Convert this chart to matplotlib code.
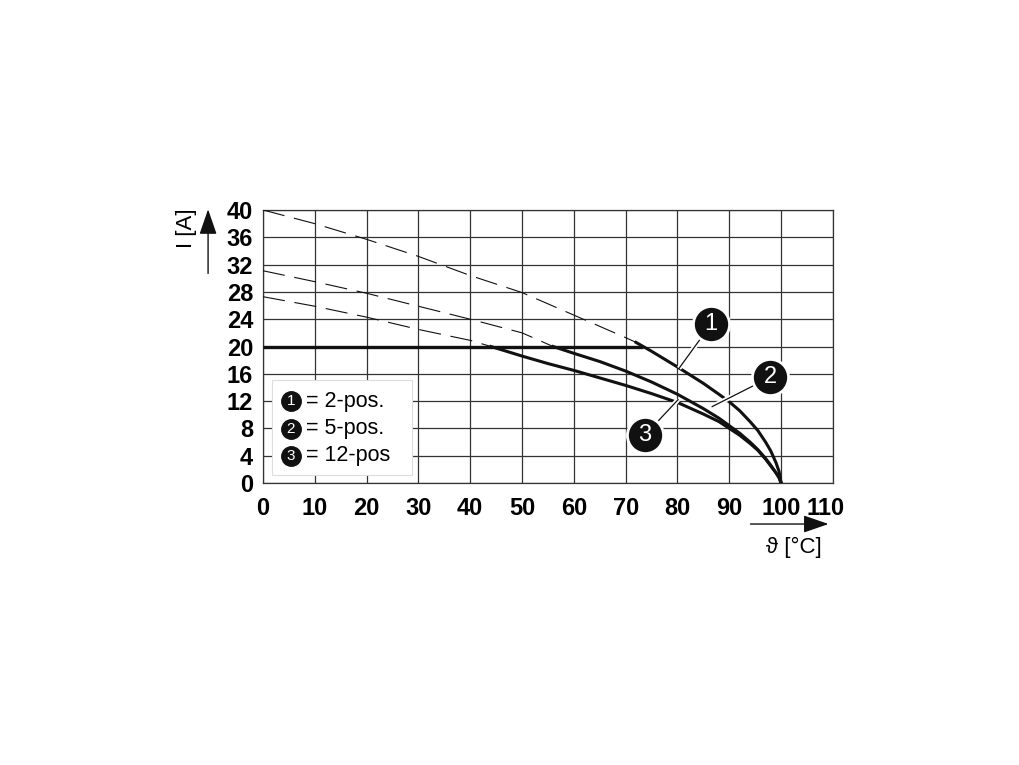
import matplotlib
matplotlib.use("Agg")
import matplotlib.pyplot as plt
from matplotlib.patches import FancyBboxPatch, FancyArrowPatch
from matplotlib.transforms import ScaledTranslation

plt.rcParams['font.family'] = ['Liberation Sans', 'DejaVu Sans']
plt.rcParams['lines.scale_dashes'] = False

# dashed extension of each derating curve (above 20 A)
t1_dash = [0, 10, 20, 30, 40, 50, 60, 70, 72]
i1_dash = [40, 38.0, 35.7, 33.2, 30.4, 27.9, 24.6, 21.3, 20.6]
t2_dash = [0, 10, 20, 30, 40, 50, 56]
i2_dash = [31.1, 29.5, 27.8, 25.9, 24.0, 22.0, 20]
t3_dash = [0, 10, 20, 30, 40, 44]
i3_dash = [27.3, 25.9, 24.3, 22.5, 20.9, 20]

# solid derating curves
t1 = [72, 75, 80, 85, 88, 90, 92, 94, 95.5, 97, 98, 99, 99.6, 100]
i1 = [20.6, 19.3, 17.0, 14.6, 13.0, 11.9, 10.6, 9.0, 7.7, 6.0, 4.7, 3.0, 1.7, 0]
t2 = [56, 60, 65, 70, 75, 80, 85, 88, 90, 92, 94, 95.5, 97, 98, 99, 99.6, 100]
i2 = [20, 19.0, 17.8, 16.4, 14.8, 13.0, 10.9, 9.5, 8.4, 7.3, 6.0, 4.9, 3.6, 2.6, 1.5, 0.8, 0]
t3 = [44, 50, 55, 60, 65, 70, 75, 80, 85, 88, 90, 92, 94, 95.5, 97, 98, 99, 99.6, 100]
i3 = [20, 18.6, 17.5, 16.5, 15.4, 14.3, 13.1, 11.8, 10.1, 9.0, 8.0, 7.0, 5.8, 4.8, 3.5, 2.5, 1.5, 0.8, 0]

# max current limit
t_lim = [0, 73.4]
i_lim = [20, 20]

x_ticks = list(range(0, 111, 10))
y_ticks = list(range(0, 41, 4))
legend_labels = ["= 2-pos.", "= 5-pos.", "= 12-pos"]
callout_nums = ["1", "2", "3"]

fig = plt.figure(figsize=(10.2, 7.65), dpi=100)
ax = fig.add_axes([0.2578, 0.3686, 0.5588, 0.3569])
ax.set_xlim(0, 110)
ax.set_ylim(0, 40)
ax.set_xticks(x_ticks)
ax.set_yticks(y_ticks)
ax.grid(True, color='#333333', linewidth=0.9)
ax.set_axisbelow(True)
for s in ax.spines.values():
    s.set_color('#333333')
    s.set_linewidth(0.9)
ax.tick_params(length=0, labelsize=17)
ax.tick_params(axis='x', pad=10)
ax.tick_params(axis='y', pad=7)
for lab in ax.get_xticklabels() + ax.get_yticklabels():
    lab.set_fontweight('bold')
# the last x label sits a little to the left, as in the original drawing
last = ax.get_xticklabels()[-1]
last.set_transform(last.get_transform() + ScaledTranslation(-7 / 100, 0, fig.dpi_scale_trans))

dash = (0, (16, 7))
for t, i in [(t1_dash, i1_dash), (t2_dash, i2_dash), (t3_dash, i3_dash)]:
    ax.plot(t, i, color='#111111', lw=0.8, linestyle=dash, zorder=3)
ax.plot(t_lim, i_lim, color='#111111', lw=2.4, zorder=4, solid_capstyle='butt')
for t, i in [(t1, i1), (t2, i2), (t3, i3)]:
    ax.plot(t, i, color='#111111', lw=2.2, zorder=4, solid_joinstyle='round')

# callouts
callouts = [((86.5, 23.3), (80.3, 16.8)),
            ((97.9, 15.5), (86.7, 11.2)),
            ((73.7, 7.0), (80.1, 12.2))]
for num, (c, tip) in zip(callout_nums, callouts):
    ax.plot([c[0], tip[0]], [c[1], tip[1]], color='white', lw=3.5, zorder=5, solid_capstyle='butt')
    ax.plot([c[0], tip[0]], [c[1], tip[1]], color='#111111', lw=0.9, zorder=6)
    ax.plot(c[0], c[1], 'o', ms=26, color='#111111', mec='white', mew=2, zorder=7)
    ax.text(c[0], c[1], num, color='white', fontsize=17, ha='center', va='center', zorder=8)

# legend box
box = FancyBboxPatch((0.016, 0.029), 0.245, 0.348, boxstyle='square,pad=0',
                     transform=ax.transAxes, facecolor='white', edgecolor='#dddddd',
                     lw=0.8, zorder=5)
ax.add_patch(box)
for num, lab, yf in zip(callout_nums, legend_labels, [0.300, 0.198, 0.099]):
    ax.plot(0.049, yf, 'o', ms=14, color='#111111', transform=ax.transAxes, zorder=6)
    ax.text(0.049, yf, num, color='white', fontsize=11, ha='center', va='center',
            transform=ax.transAxes, zorder=7)
    ax.text(0.076, yf, lab, fontsize=15.5, ha='left', va='center',
            transform=ax.transAxes, zorder=7)

# axis labels with arrows
fig.text(0.183, 0.702, "I [A]", rotation=90, fontsize=16, ha='center', va='center')
fig.add_artist(FancyArrowPatch((0.204, 0.639), (0.204, 0.730),
               transform=fig.transFigure, arrowstyle='-|>,head_length=1.3,head_width=0.45',
               mutation_scale=12, color='#111111', lw=1))
fig.text(0.778, 0.284, "\u03d1 [°C]", fontsize=16, ha='center', va='center')
fig.add_artist(FancyArrowPatch((0.733, 0.315), (0.815, 0.315),
               transform=fig.transFigure, arrowstyle='-|>,head_length=1.3,head_width=0.45',
               mutation_scale=12, color='#111111', lw=1))

fig.savefig("out.png", dpi=100, facecolor='white')
